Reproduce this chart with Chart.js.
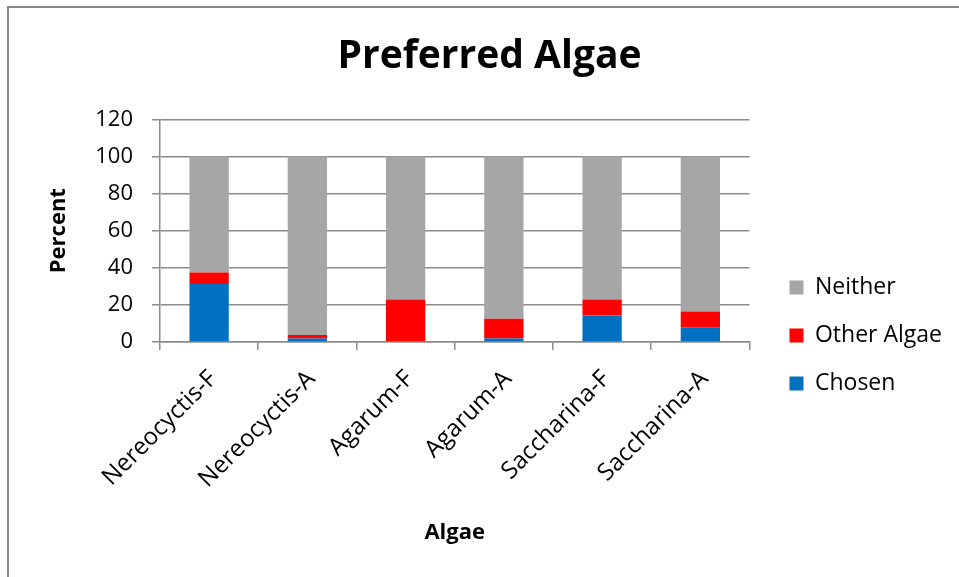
<!DOCTYPE html>
<html>
<head>
<meta charset="utf-8">
<script src="https://cdn.jsdelivr.net/npm/chart.js@4/dist/chart.umd.min.js"></script>
<style>
  html, body { margin: 0; padding: 0; background: #fff; }
  #wrap { width: 959px; height: 577px; }
</style>
</head>
<body>
<div id="wrap"><canvas id="chart" width="959" height="577"></canvas></div>
<script>
// values (percent)
const categories = ["Nereocyctis-F", "Nereocyctis-A", "Agarum-F", "Agarum-A", "Saccharina-F", "Saccharina-A"];
const chosen = [31.3, 1.9, 0, 1.9, 14.3, 8.0];
const otherAlgae = [6.2, 1.9, 22.9, 10.6, 8.6, 8.4];
const neither = [62.5, 96.2, 77.1, 87.5, 77.1, 83.6];
const yTicks = [0, 20, 40, 60, 80, 100, 120];

const gridGray = "#8c8c8c";
const font = "'Open Sans', 'DejaVu Sans', sans-serif";

// grey frame round the chart, like the spreadsheet chart area
const frame = {
  id: "frame",
  beforeDraw(chart) {
    const c = chart.ctx;
    c.save();
    c.fillStyle = "#fff";
    c.fillRect(0, 0, chart.width, chart.height);
    c.fillStyle = "#888";
    c.fillRect(7, 6, 2, chart.height - 6);
    c.fillRect(7, 6, chart.width - 7, 2);
    c.restore();
  }
};

// move the legend box to where the original has it
const legendNudge = {
  id: "legendNudge",
  afterLayout(chart) {
    const lg = chart.legend;
    const dx = 15, dy = 47;
    lg.left += dx; lg.right += dx;
    lg.top += dy; lg.bottom += dy;
  }
};

new Chart(document.getElementById("chart"), {
  type: "bar",
  data: {
    labels: categories,
    datasets: [
      { label: "Chosen", data: chosen, backgroundColor: "#0070C0", borderWidth: 0 },
      { label: "Other Algae", data: otherAlgae, backgroundColor: "#FF0000", borderWidth: 0 },
      { label: "Neither", data: neither, backgroundColor: "#A6A6A6", borderWidth: 0 }
    ]
  },
  options: {
    responsive: false,
    animation: false,
    layout: { padding: { left: 42, right: 22, top: 0, bottom: 0 } },
    datasets: { bar: { barPercentage: 0.4, categoryPercentage: 1 } },
    plugins: {
      title: {
        display: true,
        text: "Preferred Algae",
        color: "#000",
        font: { family: font, size: 39, weight: "bold" },
        padding: { top: 33, bottom: 39.5 }
      },
      legend: {
        position: "right",
        reverse: true,
        labels: {
          color: "#000",
          font: { family: font, size: 23 },
          boxWidth: 14,
          boxHeight: 14,
          padding: 25
        }
      },
      tooltip: { enabled: false }
    },
    scales: {
      x: {
        stacked: true,
        afterFit(s) { s.height = 235; },
        grid: {
          display: true,
          drawOnChartArea: false,
          drawTicks: true,
          tickLength: 8,
          color: gridGray,
          lineWidth: 1.5
        },
        border: { display: true, color: gridGray, width: 1.5 },
        ticks: {
          color: "#000",
          font: { family: font, size: 24 },
          minRotation: 45,
          maxRotation: 45,
          autoSkip: false,
          padding: 15,
          labelOffset: 4
        },
        title: {
          display: true,
          text: "Algae",
          color: "#000",
          font: { family: font, size: 22, weight: "bold" },
          padding: { top: 0, bottom: 31 }
        }
      },
      y: {
        stacked: true,
        min: yTicks[0],
        max: yTicks[yTicks.length - 1],
        afterFit(s) { s.width = 118; },
        afterBuildTicks(s) { s.ticks = yTicks.map(v => ({ value: v })); },
        grid: {
          color: gridGray,
          lineWidth: 1.5,
          drawTicks: true,
          tickLength: 8
        },
        border: { display: true, color: gridGray, width: 1.5 },
        ticks: {
          color: "#000",
          font: { family: font, size: 22 },
          padding: 19
        },
        title: {
          display: true,
          text: "Percent",
          color: "#000",
          font: { family: font, size: 22, weight: "bold" },
          padding: { top: 4, bottom: 0 }
        }
      }
    }
  },
  plugins: [frame, legendNudge]
});
</script>
</body>
</html>
